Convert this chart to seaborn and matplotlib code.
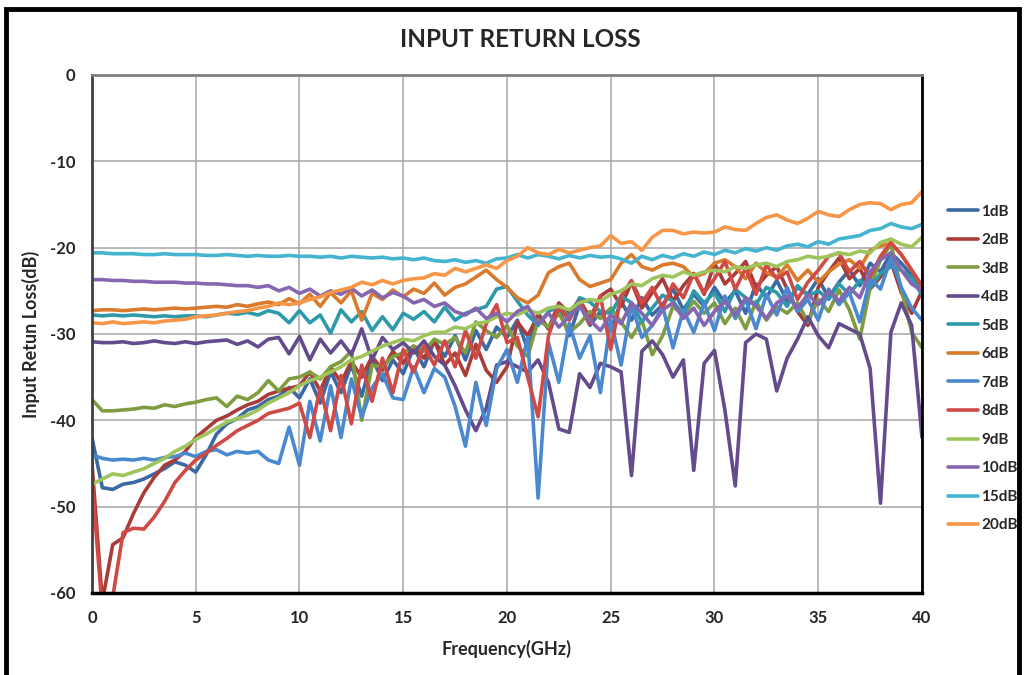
import numpy as np
import pandas as pd
import matplotlib
matplotlib.use("Agg")
import matplotlib.pyplot as plt
import seaborn as sns
from matplotlib.patches import Rectangle

# frequency grid (GHz), every 0.5 GHz from 0 to 40
freq = np.arange(0, 40.5, 0.5)

# return loss traces (dB), one value per grid point
s_1db = [
    -42.0, -47.8, -48.0, -47.4, -47.2, -46.8, -46.2, -45.6, -44.8, -45.2,
    -46.0, -44.0, -41.6, -40.4, -39.8, -38.8, -38.4, -37.6, -37.2, -36.2,
    -37.4, -35.2, -38.0, -34.4, -36.8, -33.6, -37.2, -32.8, -35.4, -33.0,
    -34.6, -31.6, -33.8, -30.8, -32.6, -30.2, -33.0, -29.6, -31.8, -29.2,
    -30.4, -28.4, -31.8, -27.6, -29.4, -27.0, -30.2, -26.6, -29.0, -27.4,
    -29.6, -26.2, -28.4, -25.8, -27.8, -26.6, -24.8, -27.2, -25.4, -26.8,
    -24.6, -26.4, -25.0, -27.6, -24.2, -25.8, -23.8, -26.2, -24.6, -25.4,
    -23.6, -25.8, -24.0, -22.6, -24.4, -21.8, -22.8, -20.6, -21.8, -23.2,
    -24.6,
]
s_2db = [
    -45.0, -61.0, -54.4, -53.6, -50.8, -48.4, -46.6, -45.2, -44.6, -43.6,
    -42.0, -41.0, -40.0, -39.5, -38.8, -38.2, -37.8, -37.0, -36.6, -36.3,
    -36.0, -34.4, -36.6, -33.8, -35.6, -33.2, -35.0, -32.6, -34.2, -32.0,
    -33.4, -31.4, -32.8, -30.8, -33.6, -32.2, -34.8, -31.2, -34.2, -35.6,
    -33.8, -28.6, -30.2, -27.8, -29.4, -26.4, -27.6, -26.0, -28.2, -25.6,
    -24.8, -26.8, -24.0, -27.0, -25.2, -23.6, -26.2, -24.4, -23.0, -25.4,
    -21.8, -24.2, -23.0, -21.6, -24.6, -23.2, -22.2, -24.8, -27.4, -29.0,
    -24.6, -22.8, -21.2, -23.6, -22.4, -24.8, -23.4, -21.6, -25.2, -27.6,
    -25.0,
]
s_3db = [
    -37.6, -38.9, -38.9, -38.8, -38.7, -38.5, -38.6, -38.2, -38.4, -38.1,
    -37.9, -37.6, -37.4, -38.4, -37.2, -37.6, -36.8, -35.4, -36.6, -35.2,
    -35.0, -34.4, -35.2, -33.8, -33.2, -32.0, -40.0, -33.6, -33.8, -32.6,
    -32.2, -31.4, -32.0, -30.6, -31.2, -30.4, -32.2, -28.6, -29.6, -30.4,
    -29.0, -31.4, -32.6, -28.4, -29.2, -27.6, -29.8, -28.8, -27.4, -28.2,
    -27.0, -28.6, -30.4, -28.4, -32.4, -30.2, -26.8, -27.8, -26.2, -27.6,
    -26.4, -28.8, -27.0, -29.4, -26.2, -28.4, -26.8, -27.6, -26.4, -28.6,
    -26.0, -27.4, -24.9, -27.2, -30.6, -24.6, -21.4, -19.6, -24.8, -29.8,
    -31.6,
]
s_4db = [
    -30.9, -31.0, -31.0, -30.9, -31.1, -31.0, -30.8, -31.0, -31.1, -30.9,
    -31.1, -30.9, -30.8, -30.7, -31.2, -30.8, -31.5, -30.6, -30.4, -32.3,
    -30.3, -33.0, -30.6, -32.2, -30.8, -32.4, -29.4, -33.0, -30.4, -31.8,
    -31.0, -32.2, -30.8, -32.6, -33.6, -36.0, -38.8, -41.2, -38.6, -33.6,
    -33.2, -33.8, -34.4, -33.0, -35.6, -41.0, -41.4, -34.6, -36.2, -33.4,
    -33.8, -34.4, -46.4, -32.0, -30.8, -32.4, -35.0, -33.0, -45.8, -33.4,
    -31.9, -38.8, -47.6, -31.0, -30.0, -30.6, -36.6, -32.8, -30.6, -28.0,
    -30.2, -31.6, -28.8, -29.4, -30.0, -34.0, -49.6, -29.8, -26.4, -29.0,
    -42.0,
]
s_5db = [
    -27.8, -27.9, -27.8, -27.9, -27.8, -27.9, -28.0, -27.9, -28.0, -27.9,
    -27.9, -28.0, -27.8, -27.6, -27.7, -27.5, -27.8, -27.3, -27.6, -28.7,
    -27.3, -28.7, -27.8, -29.9, -27.2, -28.6, -27.4, -29.6, -28.0, -29.5,
    -27.6, -28.3, -27.4, -28.6, -26.9, -28.4, -27.6, -27.2, -26.8, -24.8,
    -24.5, -26.2, -27.8, -29.0, -27.4, -26.8, -28.0, -25.8, -26.3, -27.4,
    -27.6, -25.6, -26.4, -28.6, -27.0, -25.5, -26.2, -27.8, -25.0, -26.4,
    -25.2, -27.4, -24.8, -25.8, -26.6, -24.6, -25.2, -26.8, -24.4, -25.6,
    -25.0, -26.0, -24.2, -25.4, -23.8, -24.6, -23.0, -22.2, -22.6, -23.5,
    -25.5,
]
s_6db = [
    -27.3, -27.2, -27.2, -27.3, -27.2, -27.1, -27.2, -27.1, -27.0, -27.1,
    -27.0, -26.9, -26.8, -26.9, -26.6, -26.8, -26.5, -26.3, -26.6, -25.9,
    -26.5, -25.4, -26.8, -25.2, -26.4, -25.0, -28.4, -25.3, -26.0, -24.9,
    -25.7, -24.8, -25.3, -24.1, -25.5, -24.6, -24.2, -23.4, -22.6, -23.7,
    -24.6, -25.8, -26.4, -25.5, -22.9, -22.2, -21.8, -23.7, -24.5, -24.1,
    -23.7, -21.8, -20.8, -22.2, -22.6, -22.0, -21.8, -22.2, -23.4, -23.0,
    -21.8, -21.4, -22.2, -23.6, -21.8, -22.9, -23.4, -22.0, -23.8, -22.6,
    -24.0, -22.8, -21.9, -21.4, -22.4, -20.3, -19.8, -19.5, -20.8, -22.6,
    -24.5,
]
s_7db = [
    -44.0, -44.4, -44.6, -44.5, -44.6, -44.4, -44.6, -44.3, -44.2, -43.8,
    -44.2, -43.6, -43.4, -44.0, -43.6, -43.8, -43.6, -44.6, -45.0, -40.8,
    -45.2, -37.8, -42.4, -36.0, -42.0, -35.2, -39.6, -36.2, -34.6, -37.4,
    -37.6, -33.8, -36.8, -34.0, -35.0, -38.4, -43.0, -35.6, -40.6, -34.0,
    -31.8, -35.6, -30.4, -49.0, -31.0, -35.6, -28.8, -32.8, -30.2, -36.8,
    -28.4, -33.6, -26.6, -30.4, -29.0, -26.8, -31.6, -27.2, -29.8, -26.4,
    -29.6, -25.6, -28.2, -26.0, -29.4, -25.4, -27.8, -24.6, -27.4, -26.0,
    -28.4, -24.8, -26.6, -25.2, -28.6, -23.6, -24.8, -21.2, -24.6, -27.0,
    -28.4,
]
s_8db = [
    -47.0, -62.0, -60.5, -53.0, -52.5, -52.6, -51.2, -49.4, -47.2, -45.8,
    -44.6, -43.8, -42.9, -42.1, -41.2, -40.6, -40.0, -39.2, -38.9, -38.6,
    -38.0, -42.0, -36.2, -41.2, -34.8, -40.4, -33.6, -37.8, -32.8, -36.8,
    -31.8, -34.4, -31.4, -33.6, -30.8, -33.8, -29.6, -32.8, -28.8, -26.6,
    -31.0, -30.4, -35.0, -39.6, -30.2, -26.8, -28.4, -26.2, -28.8, -25.6,
    -31.8, -25.6, -23.8, -26.4, -24.6, -27.0, -24.2, -25.8, -23.0, -25.2,
    -23.6, -21.6, -24.8, -22.4, -25.4, -22.0, -23.6, -22.8, -26.0, -24.0,
    -22.6, -21.0, -20.6, -22.8, -21.6, -23.4, -21.0, -19.4, -20.8, -22.6,
    -24.4,
]
s_9db = [
    -47.4, -46.8, -46.2, -46.4, -46.0, -45.6, -45.0, -44.4, -43.6, -43.0,
    -42.2, -41.6, -40.9, -40.2, -39.8, -39.4, -38.8, -38.0, -37.4, -36.8,
    -36.0, -35.4, -35.0, -34.4, -33.8, -33.0, -32.6, -32.0, -31.4, -31.0,
    -30.6, -30.8, -30.2, -29.8, -29.8, -29.2, -29.4, -28.8, -28.6, -28.0,
    -27.6, -27.8, -27.2, -27.6, -27.0, -26.8, -27.2, -26.4, -26.0, -26.2,
    -25.4, -25.0, -24.2, -24.4, -23.6, -23.2, -23.4, -22.8, -23.2, -22.8,
    -22.6, -22.8, -22.2, -22.4, -22.0, -21.8, -22.2, -21.6, -21.4, -21.0,
    -21.2, -21.0, -20.6, -20.8, -20.4, -20.6, -19.4, -19.0, -19.6, -19.9,
    -18.8,
]
s_10db = [
    -23.7, -23.7, -23.8, -23.8, -23.9, -23.9, -24.0, -24.0, -24.0, -24.1,
    -24.1, -24.2, -24.2, -24.3, -24.4, -24.4, -24.6, -24.4, -25.0, -24.6,
    -25.3, -24.8, -25.6, -25.0, -25.4, -24.7, -25.6, -24.9, -25.8, -25.2,
    -25.6, -26.4, -26.0, -26.8, -26.4, -27.4, -27.8, -27.0, -28.2, -27.6,
    -28.6, -27.4, -26.8, -28.8, -27.6, -29.2, -28.0, -26.8, -28.4, -29.6,
    -27.8, -28.8, -26.4, -27.6, -29.0, -27.2, -26.4, -28.2, -27.0, -29.0,
    -27.4, -26.2, -27.8, -25.8, -26.8, -28.2, -26.4, -25.6, -27.0, -25.4,
    -26.6, -25.0, -26.2, -24.6, -25.8, -22.8, -21.4, -20.6, -22.6, -24.2,
    -25.0,
]
s_15db = [
    -20.6, -20.6, -20.7, -20.7, -20.7, -20.8, -20.8, -20.7, -20.8, -20.8,
    -20.8, -20.9, -20.9, -20.8, -20.9, -21.0, -20.9, -21.0, -21.0, -20.9,
    -21.0, -21.0, -21.1, -21.0, -21.2, -21.0, -21.1, -21.2, -21.1, -21.3,
    -21.2, -21.4, -21.2, -21.5, -21.6, -21.4, -21.7, -21.5, -21.8, -21.3,
    -21.2, -20.8, -21.2, -20.8, -21.0, -21.3, -20.9, -21.2, -20.9, -21.1,
    -21.0, -21.3, -21.8, -21.0, -21.4, -20.9, -21.2, -20.7, -21.0, -20.5,
    -20.8, -20.3, -20.6, -20.1, -20.4, -20.0, -20.3, -19.8, -19.6, -19.9,
    -19.3, -19.6, -19.0, -18.8, -18.6, -18.0, -17.8, -17.2, -17.6, -17.8,
    -17.3,
]
s_20db = [
    -28.7, -28.8, -28.6, -28.8, -28.7, -28.6, -28.7, -28.5, -28.4, -28.3,
    -28.0, -27.9, -27.8, -27.6, -27.4, -27.3, -27.0, -26.8, -26.4, -26.6,
    -26.4, -26.0, -25.7, -25.2, -24.9, -24.6, -24.0, -24.3, -23.8, -24.2,
    -23.8, -23.6, -23.5, -23.0, -23.2, -22.4, -22.8, -22.4, -22.0, -22.4,
    -21.5, -21.0, -20.0, -20.6, -20.8, -20.2, -20.6, -20.3, -20.0, -19.8,
    -18.6, -19.5, -19.3, -20.3, -18.8, -18.0, -18.0, -18.4, -18.2, -18.3,
    -18.2, -17.6, -17.9, -18.0, -17.2, -16.5, -16.2, -16.8, -17.2, -16.6,
    -15.8, -16.2, -16.4, -15.6, -15.0, -14.8, -14.9, -15.6, -15.0, -14.8,
    -13.5,
]

labels = ["1dB", "2dB", "3dB", "4dB", "5dB", "6dB",
          "7dB", "8dB", "9dB", "10dB", "15dB", "20dB"]
series = [s_1db, s_2db, s_3db, s_4db, s_5db, s_6db,
          s_7db, s_8db, s_9db, s_10db, s_15db, s_20db]
colors = ["#3B69A3", "#A93B38", "#7F9D40", "#644B8C", "#2C9AAB", "#D97A2C",
          "#4A89CF", "#D04A45", "#9DC55C", "#8566B0", "#45B4CF", "#F79646"]

rows = []
for name, vals in zip(labels, series):
    for f, v in zip(freq, vals):
        rows.append({"freq": f, "loss": v, "atten": name})
df = pd.DataFrame(rows)

sns.set_style("white")
plt.rcParams["font.family"] = ["Lato", "DejaVu Sans"]
plt.rcParams["axes.unicode_minus"] = False
plt.rcParams["lines.solid_joinstyle"] = "round"
plt.rcParams["lines.solid_capstyle"] = "round"

fig = plt.figure(figsize=(10.24, 6.75), dpi=100)
ax = fig.add_axes([0.0898, 0.1215, 0.8106, 0.7674])

sns.lineplot(data=df, x="freq", y="loss", hue="atten", hue_order=labels,
             palette=dict(zip(labels, colors)), estimator=None, errorbar=None,
             sort=False, linewidth=2.6, ax=ax)

ax.set_xlim(0, 40)
ax.set_ylim(-60, 0)
ax.set_xticks(range(0, 41, 5))
ax.set_yticks(range(-60, 1, 10))
ax.grid(True, color="#A6A6A6", linewidth=1.1)
ax.set_axisbelow(True)
ax.tick_params(length=0, labelsize=12)
ax.tick_params(axis="y", pad=12)
ax.tick_params(axis="x", pad=12)
for lab in ax.get_xticklabels() + ax.get_yticklabels():
    lab.set_fontweight("bold")

ax.spines["left"].set_color("#404040")
ax.spines["left"].set_linewidth(2.0)
ax.spines["bottom"].set_color("black")
ax.spines["bottom"].set_linewidth(2.5)
ax.spines["right"].set_color("black")
ax.spines["right"].set_linewidth(2.0)
ax.spines["top"].set_color("#7F7F7F")
ax.spines["top"].set_linewidth(2.0)

ax.set_xlabel("Frequency(GHz)", fontsize=13, fontweight="bold", labelpad=10)
ax.set_ylabel("Input Retun Loss(dB)", fontsize=13, fontweight="bold", labelpad=7)
fig.text(0.508, 0.942, "INPUT RETURN LOSS", ha="center", va="center",
         fontsize=17.5, fontweight="bold")

leg = ax.legend(loc="upper left", bbox_to_anchor=(0.918, 0.708),
                bbox_transform=fig.transFigure, frameon=False,
                fontsize=11, handlelength=2.0, handletextpad=0.2,
                labelspacing=0.95, borderpad=0)
for txt in leg.get_texts():
    txt.set_fontweight("bold")
for line in leg.get_lines():
    line.set_linewidth(2.6)

# black frame around the whole chart
fig.patches.append(Rectangle((0.006, -0.02), 0.989, 1.006, transform=fig.transFigure,
                             fill=False, edgecolor="black", linewidth=3.5))

fig.savefig("out.png", dpi=100)
